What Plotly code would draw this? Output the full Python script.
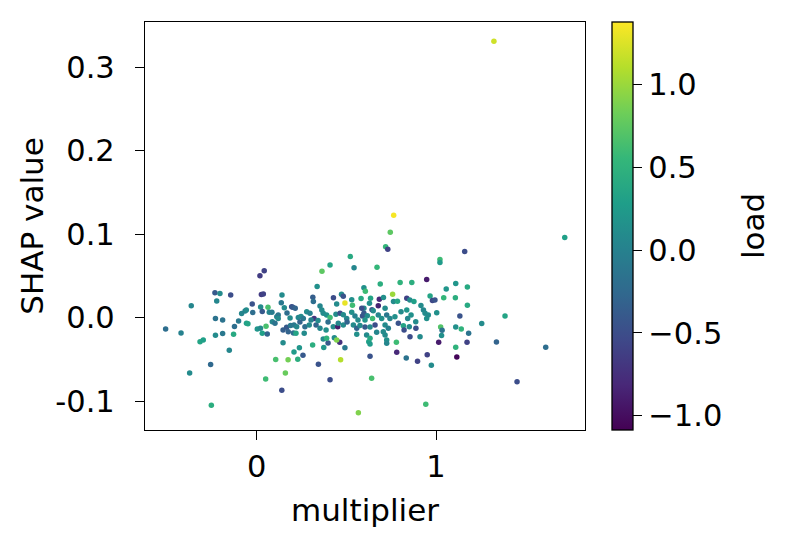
import plotly.graph_objects as go

# SHAP dependence values
multiplier = [
    -0.508, -0.422, -0.365, -0.374, -0.316, -0.298, -0.253, -0.257, -0.233, -0.205,
    -0.223, -0.230, -0.190, -0.230, -0.190, -0.153, -0.145, -0.129, -0.124, -0.101,
    -0.084, -0.065, -0.058, -0.057, -0.049, -0.025, -0.022, 0.018, 0.042, 0.026,
    0.037, 0.022, 0.031, 0.063, 0.070, 0.003, 0.021, 0.031, 0.052, 0.059,
    0.141, 0.137, 0.154, 0.195, 0.085, 0.112, 0.120, 0.087, 0.102, 0.120,
    0.147, 0.147, 0.167, 0.176, 0.189, 0.205, 0.106, 0.175, 0.160, 0.208,
    0.050, 0.140, 0.229, 0.238, 0.258, 0.312, 0.374, 0.398, 0.463, 0.492,
    0.344, 0.468, 0.409, 0.567, 0.632, 0.625, 0.632, 0.641, 0.725, 0.779,
    0.781, 0.834, 0.897, 0.951, 0.974, 0.943, 1.015, 1.110, 1.116, 1.173,
    1.337, 1.452, 1.612, 1.323, 0.764, 0.745, 0.719, 0.731, 1.718, 1.160,
    0.522, 0.409, 0.364, 0.543, 0.671, 0.689, 0.800, 0.865, 0.948, 1.022,
    1.022, 0.337, 0.598, 0.606, 0.758, 0.492, 0.428, 0.473, 0.483, 0.313,
    0.316, 0.530, 0.534, 0.582, 0.635, 0.629, 0.684, 0.707, 0.678, 0.643,
    0.598, 0.590, 0.646, 0.763, 0.785, 0.837, 0.854, 0.877, 0.967, 0.980,
    1.110, 1.057, 1.175, 1.043, 1.108, 1.175, 0.994, 1.004, 1.133, 1.255,
    1.385, 1.026, 1.034, 1.031, 1.110, 1.141, 1.182, 0.716, 0.725, 0.743,
    0.771, 0.805, 0.837, 0.842, 0.861, 0.887, 0.790, 0.818, 0.851, 0.716,
    0.734, 0.822, 0.888, 0.916, 0.930, 0.939, 0.948, 0.957, 0.716, 0.725,
    0.855, 0.911, 0.201, 0.215, 0.353, 0.363, 0.446, 0.232, 0.247, 0.260,
    0.279, 0.297, 0.320, 0.371, 0.390, 0.409, 0.442, 0.465, 0.483, 0.502,
    0.530, 0.548, 0.586, 0.598, 0.617, 0.650, 0.678, 0.697, 0.208, 0.223,
    0.269, 0.293, 0.331, 0.353, 0.387, 0.427, 0.452, 0.455, 0.483, 0.539,
    0.558, 0.576, 0.604, 0.632, 0.660, 0.669, 0.706, 0.219, 0.265, 0.371,
    0.390, 0.433, 0.446, 0.558, 0.613, 0.632, 0.241, 0.303, 0.342, 0.398,
    0.504, 0.565, 0.604, 0.186, 0.169,
]

shap_value = [
    -0.0138, -0.0185, 0.0141, -0.0664, -0.0290, -0.0269, -0.1050, -0.0562, 0.0297, 0.0289,
    0.0197, -0.0010, -0.0030, -0.0212, -0.0191, -0.0392, 0.0269, -0.0201, -0.0108, -0.0042,
    0.0048, 0.0078, 0.0090, -0.0069, -0.0075, 0.0161, 0.0060, 0.0500, 0.0560, 0.0275,
    0.0281, 0.0126, 0.0072, 0.0122, 0.0062, -0.0138, -0.0129, -0.0189, -0.0105, -0.0197,
    0.0269, 0.0177, 0.0117, 0.0129, 0.0062, 0.0010, 0.0030, -0.0050, -0.0069, -0.0010,
    -0.0301, -0.0150, -0.0117, -0.0170, -0.0096, -0.0185, -0.0502, -0.0505, -0.0664, -0.0413,
    -0.0736, -0.0871, -0.0500, -0.0361, -0.0452, -0.0329, -0.0359, -0.0305, -0.0297, -0.0361,
    -0.0560, -0.0505, -0.0744, -0.1139, -0.0464, -0.0290, -0.0317, -0.0727, -0.0269, -0.0297,
    -0.0416, -0.0484, -0.0524, -0.0445, -0.0572, -0.1038, -0.0297, -0.0356, -0.0472, -0.0297,
    -0.0293, -0.0768, -0.0356, 0.3310, 0.1226, 0.1023, 0.0847, 0.0819, 0.0959, 0.0792,
    0.0730, 0.0628, 0.0554, 0.0596, 0.0602, 0.0403, 0.0419, 0.0421, 0.0455, 0.0696,
    0.0658, 0.0371, 0.0356, 0.0315, 0.0279, 0.0173, 0.0237, 0.0279, 0.0254, 0.0243,
    0.0191, 0.0213, 0.0147, 0.0227, 0.0230, 0.0170, 0.0219, 0.0239, 0.0141, 0.0093,
    0.0110, 0.0018, -0.0010, 0.0191, 0.0195, 0.0230, 0.0209, 0.0191, 0.0257, 0.0203,
    0.0407, 0.0341, 0.0365, 0.0237, 0.0236, 0.0147, 0.0209, 0.0057, 0.0018, -0.0072,
    0.0018, -0.0114, -0.0153, -0.0215, -0.0114, -0.0138, -0.0189, 0.0110, 0.0030, -0.0010,
    0.0010, 0.0069, 0.0090, -0.0010, 0.0030, -0.0050, -0.0069, -0.0098, -0.0110, -0.0090,
    -0.0129, -0.0150, -0.0129, 0.0144, 0.0090, 0.0050, -0.0010, 0.0030, -0.0209, -0.0309,
    -0.0230, -0.0230, 0.0122, 0.0110, 0.0138, 0.0090, 0.0161, 0.0002, 0.0012, -0.0010,
    0.0069, 0.0050, -0.0010, 0.0050, 0.0030, 0.0000, 0.0038, 0.0050, 0.0033, -0.0010,
    0.0062, 0.0018, 0.0110, 0.0050, 0.0022, 0.0081, 0.0030, -0.0010, -0.0090, -0.0110,
    -0.0110, -0.0090, -0.0090, -0.0129, -0.0150, -0.0110, -0.0110, -0.0069, -0.0090, -0.0090,
    -0.0129, -0.0096, -0.0114, -0.0114, -0.0090, -0.0177, -0.0170, -0.0189, -0.0189, -0.0257,
    -0.0249, -0.0242, -0.0269, -0.0201, -0.0209, -0.0249, -0.0054, -0.0030, -0.0036, -0.0054,
    -0.0054, -0.0030, -0.0030, -0.0006, 0.0054,
]

load = [
    -0.20, 0.00, 0.05, 0.10, 0.35, 0.30, 0.45, -0.25, -0.40, 0.10,
    0.05, -0.15, -0.15, 0.10, -0.10, 0.05, -0.50, 0.40, -0.20, -0.10,
    0.05, 0.00, 0.10, 0.30, 0.35, -0.45, -0.20, -0.65, -0.60, -0.65,
    -0.60, 0.10, -0.40, 0.65, 0.05, 0.20, 0.10, 0.30, 0.65, -0.30,
    0.10, -0.10, 0.10, -0.50, -0.05, 0.05, -0.10, 0.05, -0.15, 0.10,
    0.10, -0.35, -0.40, -0.30, -0.10, -0.20, 0.65, 0.85, 0.80, 0.25,
    0.60, -0.50, 0.45, 0.20, -0.40, 0.45, 0.20, -0.40, -0.75, -0.10,
    -0.45, 1.10, -0.50, 0.90, -0.45, 0.30, 0.25, 0.65, 0.15, 0.60,
    -0.80, -0.15, -0.60, -0.60, 0.10, 0.60, -0.90, 0.50, -1.05, -0.60,
    -0.30, -0.50, -0.20, 1.20, 1.35, 0.75, 0.55, -0.60, 0.30, -0.50,
    0.40, 0.35, 0.75, 0.05, 0.55, 0.45, 0.50, 0.45, -0.90, 0.60,
    0.25, 0.15, 0.15, 0.60, 1.00, 1.30, -0.50, 0.10, -0.45, -0.35,
    -0.20, 0.15, 0.60, 0.40, 0.35, 0.15, -0.80, 0.15, -0.85, -0.45,
    0.10, -0.45, 0.60, 0.10, 0.35, -0.60, 0.10, 0.30, 0.35, -0.55,
    0.20, 0.20, 0.40, 0.55, 0.45, 0.40, -0.45, 0.15, -0.45, 0.10,
    0.35, 0.70, -0.15, 0.15, 0.15, 0.50, -0.15, 0.10, -0.10, 0.05,
    0.15, 0.10, 0.20, 0.05, 0.15, 0.10, -0.45, 0.35, 0.10, 0.10,
    0.00, -0.50, -0.50, 0.10, 0.05, 0.10, 0.15, 0.10, 0.10, 0.05,
    -0.50, 0.10, -0.40, -0.30, 0.05, 0.10, 0.10, 0.05, 0.10, -0.10,
    0.10, 0.00, -0.70, 0.10, 0.15, 0.60, 0.10, -0.50, 0.10, 0.05,
    0.15, 0.00, -0.50, -0.40, 0.10, 0.10, 0.05, 0.15, -0.10, 0.05,
    -0.20, 0.10, -0.30, 0.05, 0.15, 0.10, -0.90, 0.05, 0.10, 0.10,
    -0.30, 0.10, -0.40, 0.10, -0.50, 0.05, 0.10, 0.35, 0.10, 0.10,
    0.50, 0.10, 0.90, 0.15, 0.10, 0.40, -0.30, 0.00, 0.10, -0.20,
    -0.30, 0.10, 0.20, 0.10, -0.20,
]

y_ticks = [-0.1, 0.0, 0.1, 0.2, 0.3]
y_tick_labels = ["-0.1", "0.0", "0.1", "0.2", "0.3"]
load_ticks = [-1.0, -0.5, 0.0, 0.5, 1.0]

FONT = "DejaVu Sans"
TICK_FS = 30.5
TITLE_FS = 31

fig = go.Figure(
    go.Scatter(
        x=multiplier,
        y=shap_value,
        mode="markers",
        marker=dict(
            size=5.5,
            color=load,
            colorscale="Viridis",
            cmin=-1.086,
            cmax=1.378,
            line=dict(width=0),
            colorbar=dict(
                x=1.061,
                xanchor="left",
                xpad=0,
                y=0.5,
                len=1,
                lenmode="fraction",
                thickness=21,
                ypad=0,
                outlinecolor="black",
                outlinewidth=1.3,
                tickvals=load_ticks,
                tickformat=".1f",
                ticks="outside",
                ticklen=9,
                tickwidth=1.3,
                tickcolor="black",
                tickfont=dict(family=FONT, size=TICK_FS, color="black"),
            ),
        ),
        showlegend=False,
    )
)

axis_style = dict(
    showline=True,
    mirror=True,
    linecolor="black",
    linewidth=1.3,
    ticks="outside",
    ticklen=9,
    tickwidth=1.3,
    tickcolor="black",
    showgrid=False,
    zeroline=False,
    tickfont=dict(family=FONT, size=TICK_FS, color="black"),
)

# page body adds an 8px offset, so the figure is 8px smaller than the window
fig.update_layout(
    width=785,
    height=539,
    margin=dict(l=137, r=208, t=14, b=117),
    paper_bgcolor="white",
    plot_bgcolor="white",
    font=dict(family=FONT, size=TICK_FS, color="black"),
    xaxis=dict(
        range=[-0.623, 1.831],
        tickvals=[0, 1],
        ticktext=["0", "1"],
        title=dict(text="multiplier", standoff=16, font=dict(family=FONT, size=TITLE_FS)),
        **axis_style,
    ),
    yaxis=dict(
        range=[-0.1347, 0.354],
        tickvals=y_ticks,
        ticktext=y_tick_labels,
        ticklabelstandoff=14,
        title=dict(text="SHAP value", standoff=2, font=dict(family=FONT, size=TITLE_FS)),
        **axis_style,
    ),
    annotations=[
        dict(
            text="load",
            xref="paper",
            yref="paper",
            x=1.382,
            y=0.5,
            xanchor="center",
            yanchor="middle",
            textangle=-90,
            showarrow=False,
            font=dict(family=FONT, size=TITLE_FS, color="black"),
        )
    ],
)

fig.write_html("out.html")
